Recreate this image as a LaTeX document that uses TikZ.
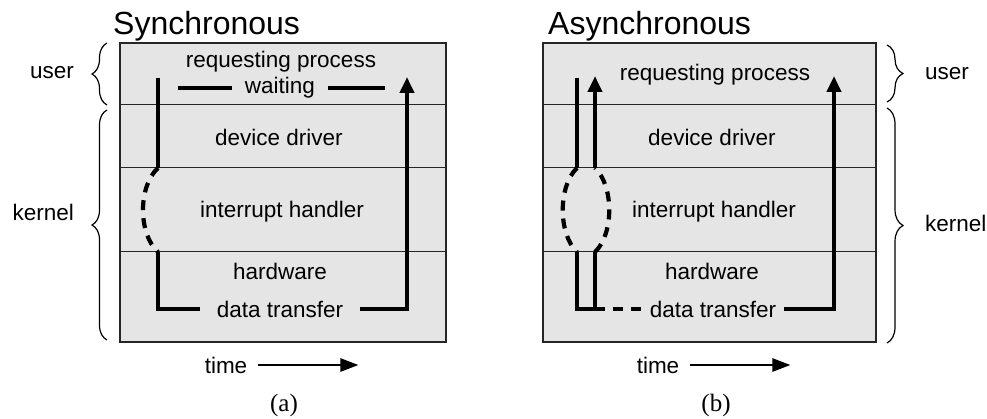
\documentclass[tikz,border=0pt]{standalone}
\usepackage{fontspec}
\setmainfont{Liberation Sans}
\newfontfamily\capfont{Liberation Serif}
\usetikzlibrary{arrows.meta,decorations.pathreplacing}

\begin{document}
\begin{tikzpicture}[x=1pt,y=-1pt,
    lbl/.style={font=\fontsize{22.5}{26}\selectfont, inner sep=0pt},
    ttl/.style={font=\fontsize{32}{38}\selectfont, inner sep=0pt},
    subcap/.style={font=\capfont\fontsize{25}{30}\selectfont, inner sep=0pt},
    box/.style={draw=black!85, line width=1.2pt, fill=black!10},
    sep/.style={draw=black!85, line width=1pt},
    flow/.style={line width=4.2pt},
    gap/.style={flow, dash pattern=on 10pt off 8pt},
    up/.style={flow, -{Triangle[length=16pt,width=14pt]}},
    tm/.style={line width=2.6pt, -{Triangle[length=18pt,width=13pt]}},
    brc/.style={decorate, decoration={brace, amplitude=15pt}, line width=1.2pt}]
  \useasboundingbox (0,0) rectangle (987,419);
  % (a) synchronous
  \node (synctitle) at (113,35) [ttl, anchor=base west] {Synchronous};
  \draw[box] (120,43) rectangle (446,342);
  \draw[sep] (120,105) -- (446,105); \draw[sep] (120,168) -- (446,168);
  \draw[sep] (120,252) -- (446,252);
  \node (reqa) at (281,62) [lbl] {requesting process};
  \node (waita) at (280,88) [lbl, inner xsep=13pt] {waiting};
  \node (drva) at (279,137) [lbl] {device driver};
  \node (irqa) at (282,212) [lbl] {interrupt handler};
  \node (hwa) at (280,271) [lbl] {hardware};
  \node (xfera) at (280,309) [lbl, inner xsep=17pt] {data transfer};
  \draw[flow] (158,78) -- (158,168); \draw[gap] (158,168) .. controls
    (138,186) and (138,234) .. (158,252); \draw[flow] (158,252) |-
    (xfera.west); \draw[up] (xfera.east) -| (407,77);
  \draw[flow] (178,88) -- (waita.west); \draw[flow] (waita.east) -- (385,88);
  \node (timea) at (226,365) [lbl, inner xsep=11pt] {time};
  \draw[tm] (timea.east) -- ++(100,0);
  \node (capa) at (284,405) [subcap] {(a)};
  \draw[brc] (107,105) -- (107,43); \draw[brc] (107,340) -- (107,110);
  \node (usera) at (74,73) [lbl, anchor=east] {user};
  \node (kernela) at (74,212) [lbl, anchor=east] {kernel};
  % (b) asynchronous
  \node (asynctitle) at (548,35) [ttl, anchor=base west] {Asynchronous};
  \draw[box] (543,43) rectangle (876,342);
  \draw[sep] (543,105) -- (876,105); \draw[sep] (543,168) -- (876,168);
  \draw[sep] (543,252) -- (876,252);
  \node (reqb) at (715,75) [lbl] {requesting process};
  \node (drvb) at (712,137) [lbl] {device driver};
  \node (irqb) at (714,212) [lbl] {interrupt handler};
  \node (hwb) at (712,271) [lbl] {hardware};
  \node (xferb) at (713,309) [lbl, inner xsep=8pt] {data transfer};
  \draw[flow] (577,78) -- (577,168); \draw[gap] (577,168) .. controls
    (558,186) and (558,234) .. (577,252); \draw[gap] (595,252) .. controls
    (614,234) and (614,186) .. (595,168); \draw[up] (595,168) -- (595,76);
  \draw[flow] (595,252) -- (595,309) -| (577,252);
  \draw[flow, dash pattern=on 10pt off 8pt] (595,309) -- (xferb.west);
  \draw[up] (xferb.east) -| (834,76);
  \node (timeb) at (658,365) [lbl, inner xsep=11pt] {time};
  \draw[tm] (timeb.east) -- ++(100,0);
  \node (capb) at (716,405) [subcap] {(b)};
  \draw[brc, decoration={amplitude=16pt}] (887,45) -- (887,102);
  \draw[brc, decoration={amplitude=16pt}] (887,108) -- (887,343);
  \node (userb) at (925,74) [lbl, anchor=west] {user};
  \node (kernelb) at (925,223) [lbl, anchor=west] {kernel};
\end{tikzpicture}
\end{document}
